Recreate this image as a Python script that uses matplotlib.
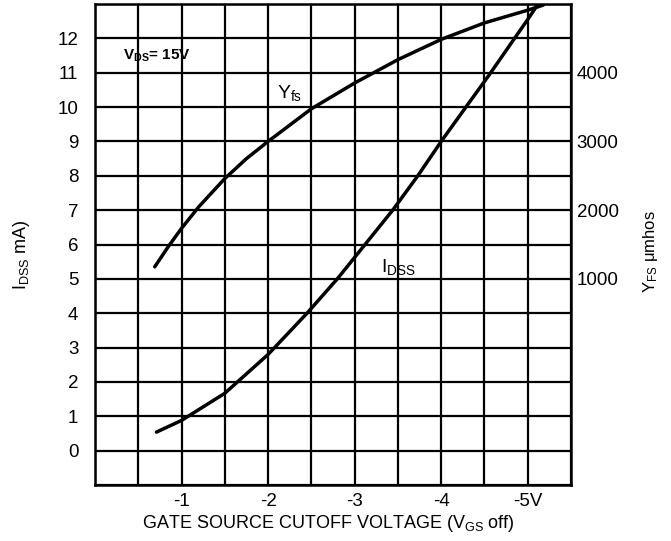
import matplotlib
matplotlib.use("Agg")
import matplotlib.pyplot as plt
import numpy as np

plt.rcParams['font.family'] = ['Liberation Sans', 'DejaVu Sans']
plt.rcParams['mathtext.default'] = 'regular'

# Gate-source cutoff voltage (V) and curve values
yfs_vgs = [-0.69, -0.85, -1.0, -1.2, -1.5, -1.75, -2.0, -2.5, -3.0, -3.5, -4.0, -4.5, -5.0, -5.18]
yfs_left = [5.35, 5.95, 6.47, 7.1, 7.92, 8.5, 9.0, 9.95, 10.7, 11.38, 11.97, 12.45, 12.82, 12.97]  # plotted on IDSS-axis scale

idss_vgs = [-0.71, -1.0, -1.5, -2.0, -2.45, -2.8, -3.12, -3.44, -3.73, -4.0, -4.3, -4.55, -4.82, -5.0, -5.12]
idss_ma = [0.54, 0.88, 1.67, 2.8, 4.0, 5.0, 6.0, 7.0, 8.0, 9.0, 10.05, 10.92, 11.9, 12.55, 13.0]

x_ticks = [-1, -2, -3, -4, -5]
x_tick_labels = ['-1', '-2', '-3', '-4', '-5V']
left_ticks = list(range(0, 13))
right_ticks = [1000, 2000, 3000, 4000]

fig = plt.figure(figsize=(6.71, 5.41), dpi=100)
ax = fig.add_axes([95/671, 1-485/541, (571-95)/671, (485-4)/541])

ax.set_xlim(0, -5.5)
ax.set_ylim(-1, 13)

ax.set_xticks(x_ticks)
ax.set_xticklabels(x_tick_labels)
ax.set_xticks(np.arange(0, -5.51, -0.5), minor=True)
ax.set_yticks(left_ticks)
ax.set_yticks([-1, 13], minor=True)
ax.grid(which='both', color='black', linewidth=1.6)
ax.set_axisbelow(True)
ax.tick_params(which='both', length=0)
ax.tick_params(axis='y', pad=12, labelsize=13.5)
ax.tick_params(axis='x', pad=5.5, labelsize=13.5)
for s in ax.spines.values():
    s.set_linewidth(1.8)

ax.plot(yfs_vgs, yfs_left, color='black', linewidth=2.5, solid_capstyle='round', solid_joinstyle='round')
ax.plot(idss_vgs, idss_ma, color='black', linewidth=2.5, solid_capstyle='round', solid_joinstyle='round')

ax2 = ax.twinx()
ax2.set_ylim(-2000, 5000)
ax2.set_yticks(right_ticks)
ax2.tick_params(length=0, pad=4, labelsize=13.5)
for s in ax2.spines.values():
    s.set_visible(False)

ax.text(-0.32, 11.5, r'$V_{DS}$= 15V', fontsize=11, fontweight='bold', ha='left', va='center')
ax.text(-2.1, 10.4, r'$Y_{fs}$', fontsize=14, ha='left', va='center')
ax.text(-3.3, 5.35, r'$I_{DSS}$', fontsize=14, ha='left', va='center')

fig.text(22/671, 1-255/541, r'$I_{DSS}$ mA)', rotation=90, fontsize=13, ha='center', va='center')
fig.text(650/671, 1-252/541, r'$Y_{FS}$ $\mu$mhos', rotation=90, fontsize=12, ha='center', va='center')
fig.text(328/671, 1-524/541, r'GATE SOURCE CUTOFF VOLTAGE ($V_{GS}$ off)', fontsize=13, ha='center', va='center')

fig.savefig('out.png', dpi=100, facecolor='white')
